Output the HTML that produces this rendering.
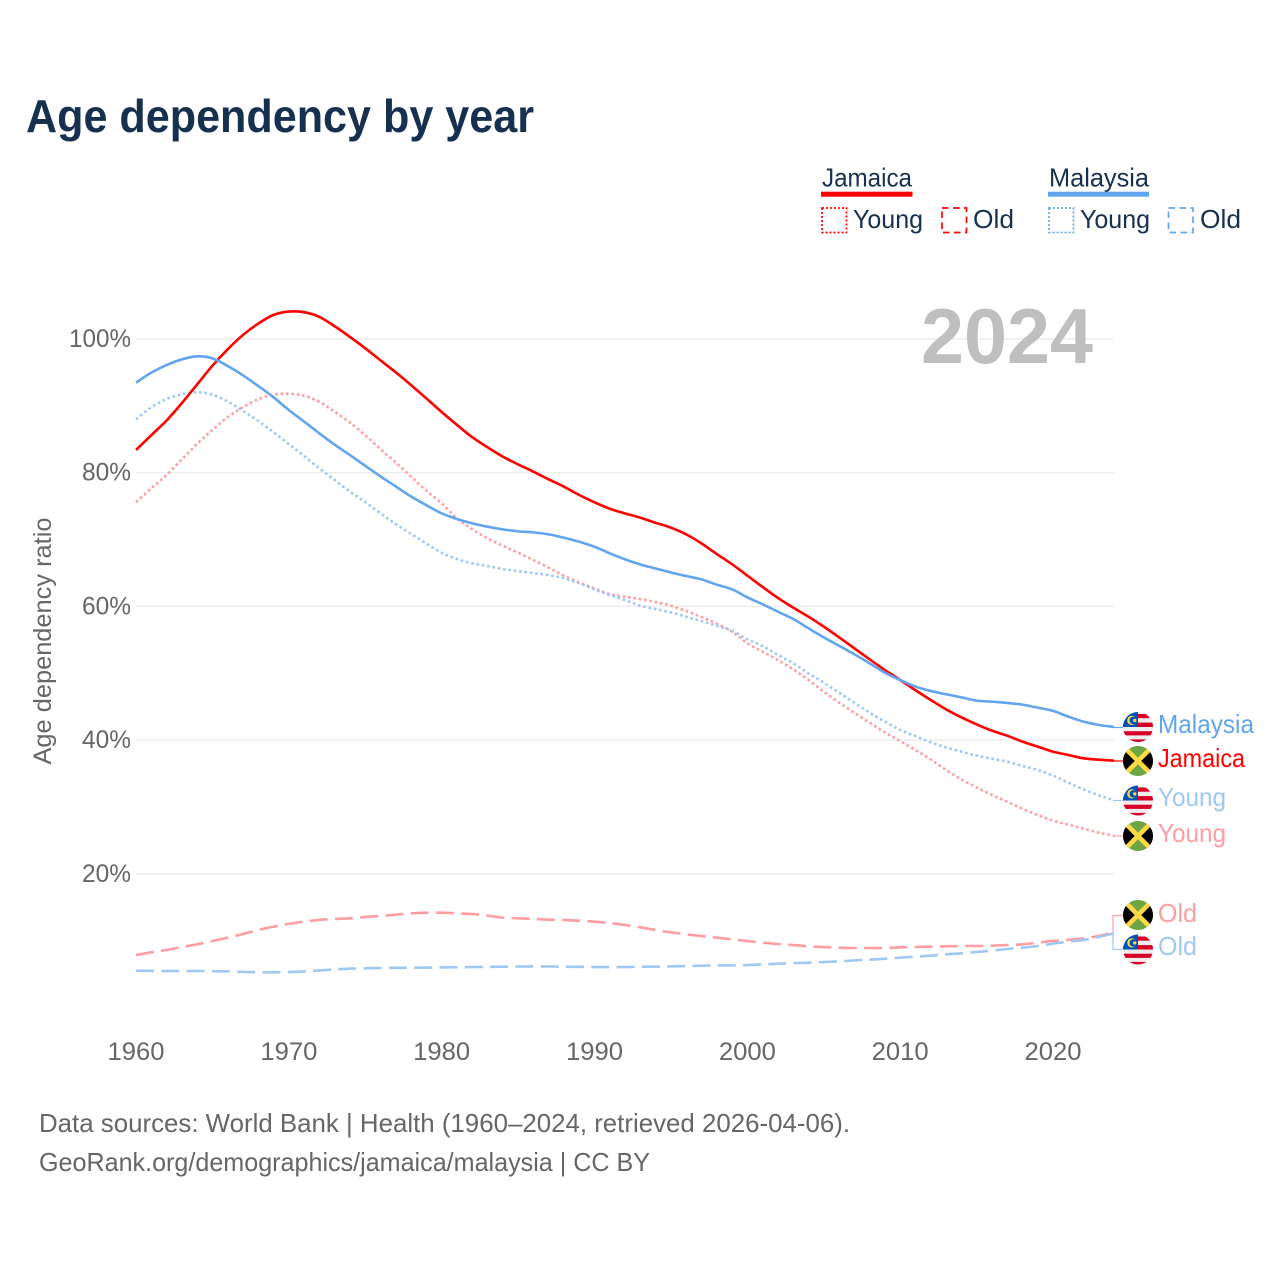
<!DOCTYPE html>
<html lang="en">
<head>
<meta charset="utf-8">
<title>Age dependency by year</title>
<style>
html,body{margin:0;padding:0;background:#fff;width:1280px;height:1280px;overflow:hidden}
svg{display:block;font-family:"Liberation Sans",sans-serif}
</style>
</head>
<body>
<svg id="chart" xmlns="http://www.w3.org/2000/svg" width="1280" height="1280" viewBox="0 0 1280 1280">
  <defs>
    <clipPath id="flag-clip"><circle cx="0" cy="0" r="15"/></clipPath>
    <g id="flag-malaysia" clip-path="url(#flag-clip)">
      <rect x="-15" y="-15" width="30" height="30" fill="#eeeeee"/>
      <rect x="-15" y="-13" width="30" height="4.2" fill="#d80027"/>
      <rect x="-15" y="-4.4" width="30" height="4.4" fill="#d80027"/>
      <rect x="-15" y="4.2" width="30" height="4.2" fill="#d80027"/>
      <rect x="-15" y="12.4" width="30" height="3" fill="#d80027"/>
      <rect x="-15" y="-15" width="15" height="15" fill="#0052b4"/>
      <circle cx="-6.2" cy="-6.6" r="4.6" fill="#ffda44"/>
      <circle cx="-4.8" cy="-6.6" r="3.7" fill="#0052b4"/>
      <circle cx="-3.2" cy="-6.6" r="1.7" fill="#ffda44"/>
    </g>
    <g id="flag-jamaica" clip-path="url(#flag-clip)">
      <rect x="-15" y="-15" width="30" height="30" fill="#6da544"/>
      <path d="M-15,-13 L0,0 L-15,13 Z" fill="#000"/>
      <path d="M15,-13 L0,0 L15,13 Z" fill="#000"/>
      <path d="M-12,-12 L12,12 M12,-12 L-12,12" stroke="#ffda44" stroke-width="4.6" fill="none"/>
    </g>
  </defs>

  <text x="26" y="132" font-size="46" font-weight="700" fill="#17304f" textLength="508" lengthAdjust="spacingAndGlyphs">Age dependency by year</text>

  <g>
    <text x="822" y="186.5" font-size="26" fill="#17304f" textLength="90" lengthAdjust="spacingAndGlyphs">Jamaica</text>
    <rect x="821" y="191.7" width="91.5" height="5" fill="#ff0000"/>
    <rect x="822" y="208" width="24.5" height="24.5" fill="none" stroke="#ff0000" stroke-width="1.7" stroke-dasharray="2 2"/>
    <text x="853" y="228" font-size="26" fill="#17304f" textLength="70" lengthAdjust="spacingAndGlyphs">Young</text>
    <rect x="942" y="208" width="24.5" height="24.5" fill="none" stroke="#ff0000" stroke-width="1.7" stroke-dasharray="6.5 4.5"/>
    <text x="973" y="228" font-size="26" fill="#17304f" textLength="41" lengthAdjust="spacingAndGlyphs">Old</text>
    <text x="1049" y="186.5" font-size="26" fill="#17304f" textLength="100" lengthAdjust="spacingAndGlyphs">Malaysia</text>
    <rect x="1048" y="191.7" width="101" height="5" fill="#62a5ee"/>
    <rect x="1049" y="208" width="24.5" height="24.5" fill="none" stroke="#62a5ee" stroke-width="1.7" stroke-dasharray="2 2"/>
    <text x="1080" y="228" font-size="26" fill="#17304f" textLength="70" lengthAdjust="spacingAndGlyphs">Young</text>
    <rect x="1168.5" y="208" width="24.5" height="24.5" fill="none" stroke="#62a5ee" stroke-width="1.7" stroke-dasharray="6.5 4.5"/>
    <text x="1200" y="228" font-size="26" fill="#17304f" textLength="41" lengthAdjust="spacingAndGlyphs">Old</text>
  </g>

  <g id="grid"></g>
  <g id="y-ticks"></g>
  <g id="x-ticks"></g>

  <text transform="translate(51,641) rotate(-90)" text-anchor="middle" font-size="25" fill="#666666" textLength="247" lengthAdjust="spacingAndGlyphs">Age dependency ratio</text>

  <text x="921" y="363" font-size="78" font-weight="700" fill="#bfbfbf" textLength="172" lengthAdjust="spacingAndGlyphs">2024</text>

  <g id="series"></g>

  <g fill="none" stroke-width="1.2">
    <path d="M1113,727.5 H1124" stroke="#62a5ee"/>
    <path d="M1113,761 H1124" stroke="#ff0000"/>
    <path d="M1113,800.5 H1124" stroke="#9fc8f3"/>
    <path d="M1113,836 H1124" stroke="#ff9ea2"/>
    <path d="M1113,932 V915.5 H1124" stroke="#ff9ea2"/>
    <path d="M1113,932 V949.5 H1124" stroke="#9fc8f3"/>
  </g>

  <g>
    <use href="#flag-malaysia" x="1138" y="727"/>
    <use href="#flag-jamaica" x="1138" y="761"/>
    <use href="#flag-malaysia" x="1138" y="800.5"/>
    <use href="#flag-jamaica" x="1138" y="836"/>
    <use href="#flag-jamaica" x="1138" y="915"/>
    <use href="#flag-malaysia" x="1138" y="949.5"/>
  </g>

  <g font-size="26">
    <text x="1158" y="733" fill="#62a5ee" textLength="96" lengthAdjust="spacingAndGlyphs">Malaysia</text>
    <text x="1158" y="767" fill="#ff0000" textLength="87" lengthAdjust="spacingAndGlyphs">Jamaica</text>
    <text x="1158" y="806" fill="#9fc8f3" textLength="68" lengthAdjust="spacingAndGlyphs">Young</text>
    <text x="1158" y="842" fill="#ff9ea2" textLength="68" lengthAdjust="spacingAndGlyphs">Young</text>
    <text x="1158" y="922" fill="#ff9ea2" textLength="39" lengthAdjust="spacingAndGlyphs">Old</text>
    <text x="1158" y="955" fill="#9fc8f3" textLength="39" lengthAdjust="spacingAndGlyphs">Old</text>
  </g>

  <g font-size="26" fill="#666666">
    <text x="39" y="1132" textLength="811" lengthAdjust="spacingAndGlyphs">Data sources: World Bank | Health (1960–2024, retrieved 2026-04-06).</text>
    <text x="39" y="1171" textLength="611" lengthAdjust="spacingAndGlyphs">GeoRank.org/demographics/jamaica/malaysia | CC BY</text>
  </g>
</svg>

<script>
const firstYear = 1960;
const xTickYears = [1960, 1970, 1980, 1990, 2000, 2010, 2020];
const yTickValues = [20, 40, 60, 80, 100];

const jamaicaTotal = [
  83.4,85.6,87.8,90.4,93.2,96.0,98.45,100.6,102.3,103.6,
  104.1,104.0,103.3,101.9,100.3,98.6,96.8,95.0,93.1,91.1,
  89.07,87.15,85.3,83.8,82.4,81.24,80.15,79,77.9,76.66,
  75.56,74.6,73.9,73.26,72.5,71.77,70.77,69.42,67.83,66.3,
  64.6,62.9,61.26,59.81,58.46,56.97,55.37,53.73,52.08,50.48,
  48.99,47.45,46.0,44.6,43.41,42.36,41.41,40.66,39.77,39.02,
  38.27,37.77,37.27,37.07,36.92
];
const malaysiaTotal = [
  93.46,94.96,96.1,96.95,97.4,97.1,95.95,94.56,92.96,91.27,
  89.37,87.63,85.88,84.18,82.63,81.03,79.43,77.93,76.43,75.13,
  73.91,73.07,72.42,71.92,71.52,71.22,71.07,70.77,70.27,69.67,
  68.92,67.93,67.03,66.27,65.67,65.07,64.54,64.04,63.25,62.55,
  61.36,60.31,59.21,58.11,56.72,55.37,54.12,52.83,51.48,50.08,
  48.99,48.0,47.35,46.85,46.4,45.9,45.75,45.55,45.3,44.85,
  44.36,43.51,42.76,42.26,41.96
];
const jamaicaYoung = [
  75.6,77.65,79.65,82,84.3,86.4,88.3,89.8,91,91.67,
  91.8,91.5,90.6,89.1,87.5,85.6,83.5,81.5,79.4,77.3,
  75.41,73.17,71.52,70.17,69.07,68.03,66.93,65.78,64.59,63.59,
  62.69,61.84,61.44,61.09,60.65,60.1,59.3,58.4,57.4,56.22,
  54.47,53.23,51.98,50.58,48.99,47.25,45.6,44.1,42.6,41.15,
  39.85,38.5,37.1,35.53,34.13,32.93,31.79,30.79,29.74,28.79,
  27.95,27.35,26.75,26.15,25.7
];
const malaysiaYoung = [
  87.97,89.77,91.02,91.72,92.0,91.67,90.63,89.22,87.73,86.03,
  84.28,82.49,80.63,78.9,77.15,75.6,73.91,72.3,70.85,69.4,
  68.03,67.08,66.43,66.03,65.58,65.28,64.98,64.69,64.19,63.44,
  62.54,61.69,60.94,60.1,59.6,59.1,58.45,57.8,57.1,56.32,
  55.07,54.07,52.73,51.48,49.98,48.59,47.09,45.6,44.1,42.75,
  41.51,40.6,39.67,38.92,38.27,37.67,37.22,36.77,36.13,35.53,
  34.68,33.63,32.63,31.74,30.99
];
const jamaicaOld = [
  7.85,8.25,8.6,9.05,9.45,9.95,10.44,11,11.6,12.1,
  12.5,12.84,13.1,13.24,13.34,13.54,13.69,13.89,14.08,14.18,
  14.18,14.08,13.98,13.74,13.44,13.34,13.24,13.14,13.08,12.99,
  12.84,12.64,12.34,11.99,11.59,11.24,10.94,10.69,10.44,10.19,
  9.94,9.69,9.49,9.34,9.14,9.04,8.94,8.9,8.9,8.9,
  9.0,9.05,9.1,9.15,9.2,9.2,9.25,9.35,9.45,9.7,
  9.95,10.1,10.35,10.7,11.3
];
const malaysiaOld = [
  5.51,5.48,5.46,5.46,5.46,5.42,5.41,5.33,5.26,5.26,
  5.31,5.4,5.55,5.7,5.8,5.87,5.9,5.93,5.95,5.97,
  6.0,6.02,6.05,6.08,6.1,6.13,6.15,6.14,6.1,6.08,
  6.05,6.05,6.05,6.1,6.1,6.15,6.2,6.25,6.3,6.3,
  6.35,6.45,6.55,6.65,6.7,6.8,6.9,7.05,7.15,7.3,
  7.45,7.6,7.75,7.95,8.1,8.3,8.5,8.75,8.95,9.2,
  9.55,9.85,10.1,10.55,11.1
];

const NS = 'http://www.w3.org/2000/svg';
function xScale(year) { return 136 + (year - 1960) * 15.2835; }
function yScale(v) { return 1007.5 - v * 6.6855; }

function seriesPath(values) {
  const pts = values.map(function (v, i) { return [xScale(firstYear + i), yScale(v)]; });
  let d = 'M' + pts[0][0].toFixed(2) + ',' + pts[0][1].toFixed(2);
  for (let i = 0; i < pts.length - 1; i++) {
    const p0 = pts[Math.max(i - 1, 0)];
    const p1 = pts[i];
    const p2 = pts[i + 1];
    const p3 = pts[Math.min(i + 2, pts.length - 1)];
    const c1x = p1[0] + (p2[0] - p0[0]) / 6;
    const c1y = p1[1] + (p2[1] - p0[1]) / 6;
    const c2x = p2[0] - (p3[0] - p1[0]) / 6;
    const c2y = p2[1] - (p3[1] - p1[1]) / 6;
    d += ' C' + c1x.toFixed(2) + ',' + c1y.toFixed(2) + ' ' + c2x.toFixed(2) + ',' + c2y.toFixed(2) + ' ' + p2[0].toFixed(2) + ',' + p2[1].toFixed(2);
  }
  return d;
}

const grid = document.getElementById('grid');
const yTicks = document.getElementById('y-ticks');
yTickValues.forEach(function (v) {
  const line = document.createElementNS(NS, 'line');
  
  
  line.setAttribute('x1', xScale(1960));
  line.setAttribute('x2', xScale(2024) - 0.5);
  line.setAttribute('y1', yScale(v));
  line.setAttribute('y2', yScale(v));
  line.setAttribute('stroke', '#ebebeb');
  line.setAttribute('stroke-width', '1.3');
  grid.appendChild(line);

  const label = document.createElementNS(NS, 'text');
  
  
  label.setAttribute('x', 131);
  label.setAttribute('y', yScale(v) + 8);
  label.setAttribute('text-anchor', 'end');
  label.setAttribute('font-size', '25');
  label.setAttribute('fill', '#666666');
  label.setAttribute('textLength', v === 100 ? 62 : 49);
  label.setAttribute('lengthAdjust', 'spacingAndGlyphs');
  label.textContent = v + '%';
  yTicks.appendChild(label);
});

const xTicks = document.getElementById('x-ticks');
xTickYears.forEach(function (yr) {
  const label = document.createElementNS(NS, 'text');
  
  
  label.setAttribute('x', xScale(yr));
  label.setAttribute('y', 1060);
  label.setAttribute('text-anchor', 'middle');
  label.setAttribute('font-size', '25');
  label.setAttribute('fill', '#666666');
  label.setAttribute('textLength', 57);
  label.setAttribute('lengthAdjust', 'spacingAndGlyphs');
  label.textContent = yr;
  xTicks.appendChild(label);
});

const seriesGroup = document.getElementById('series');
function addLine(name, values, color, dash) {
  const p = document.createElementNS(NS, 'path');
  
  
  p.setAttribute('d', seriesPath(values));
  p.setAttribute('fill', 'none');
  p.setAttribute('stroke', color);
  p.setAttribute('stroke-width', '2.6');
  p.setAttribute('stroke-linejoin', 'round');
  if (dash) { p.setAttribute('stroke-dasharray', dash); }
  seriesGroup.appendChild(p);
}
addLine('line-jamaica-old', jamaicaOld, '#ff9ea2', '18 7.3');
addLine('line-malaysia-old', malaysiaOld, '#9fc8f3', '18 7.3');
addLine('line-jamaica-young', jamaicaYoung, '#ff9ea2', '2.6 2.8');
addLine('line-malaysia-young', malaysiaYoung, '#9fc8f3', '2.6 2.8');
addLine('line-jamaica-total', jamaicaTotal, '#ff0000', '');
addLine('line-malaysia-total', malaysiaTotal, '#62a5ee', '');
</script>
</body>
</html>
